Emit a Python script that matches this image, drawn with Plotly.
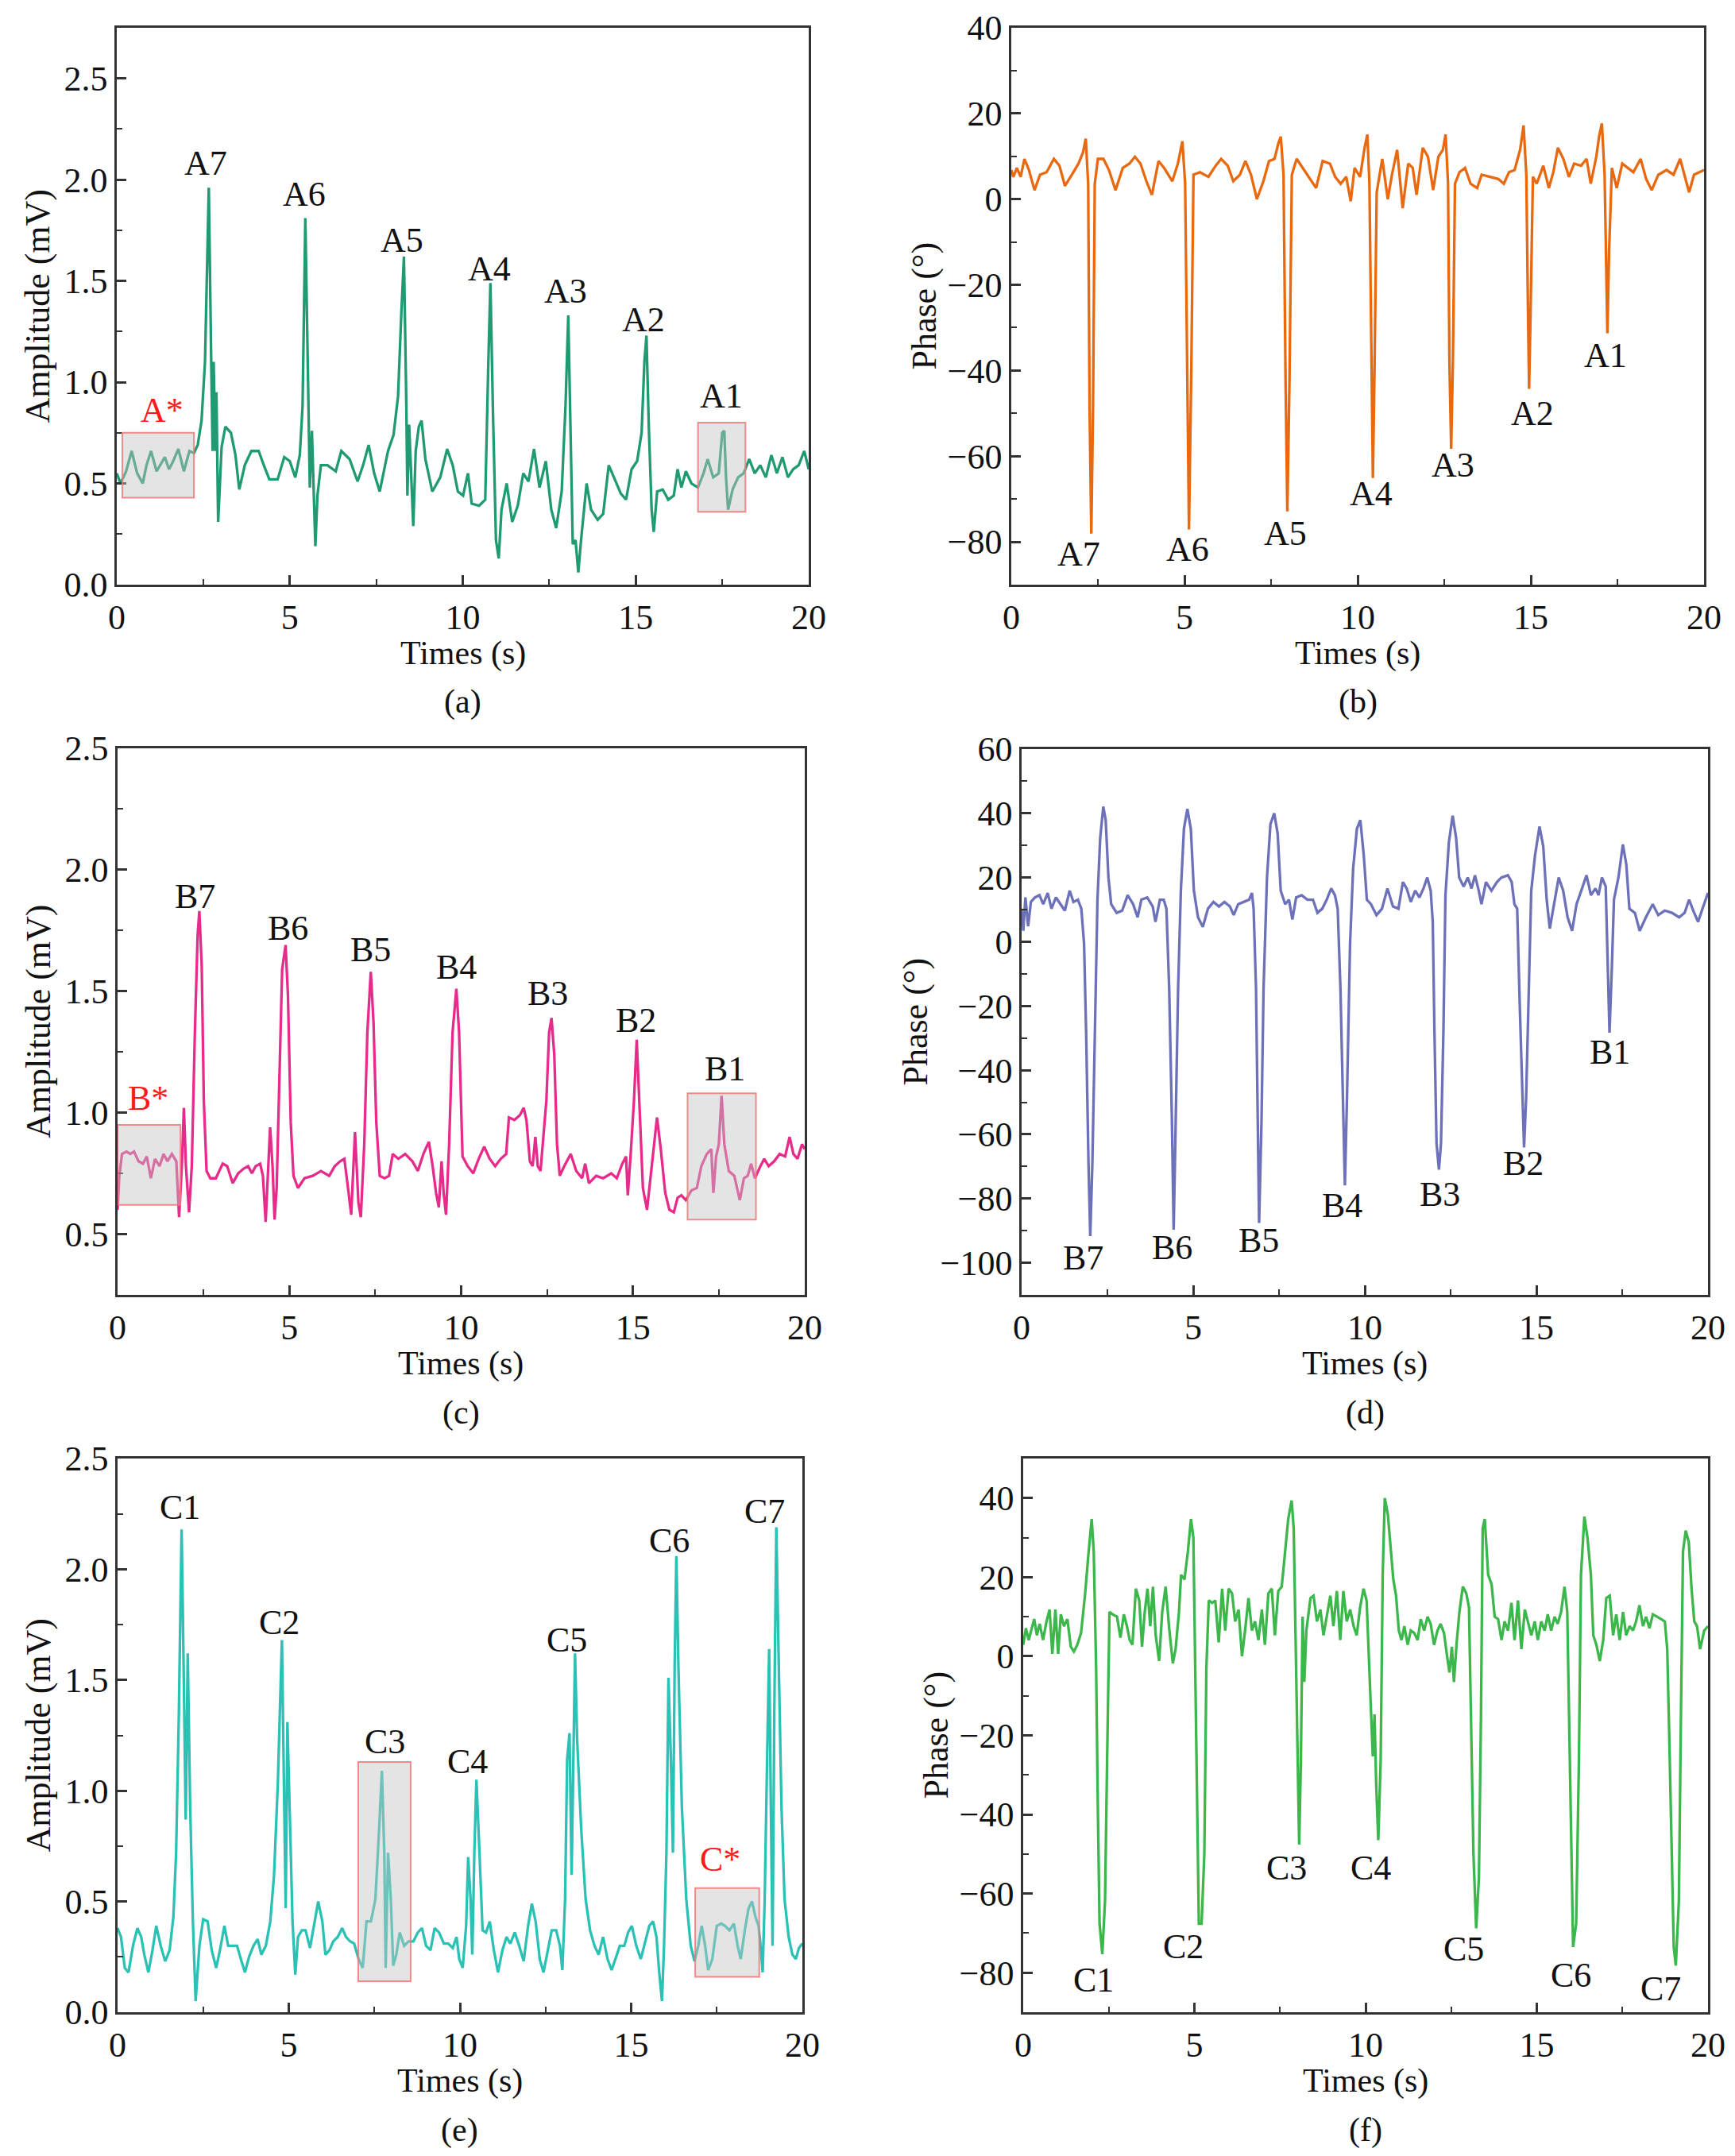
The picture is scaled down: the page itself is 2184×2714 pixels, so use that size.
import plotly.graph_objects as go

# ---------------- data ----------------
t_a = [0.00,0.11,0.27,0.43,0.59,0.75,0.86,0.99,1.15,1.39,1.51,1.63,1.78,1.94,2.10,2.23,2.34,2.45,2.55,2.61,2.66,2.73,2.77,2.80,2.85,2.88,2.93,3.03,3.14,3.30,3.43,3.54,3.70,3.89,4.10,4.25,4.41,4.65,4.84,5.00,5.16,5.29,5.37,5.45,5.53,5.58,5.64,5.69,5.74,5.80,5.90,6.09,6.33,6.49,6.73,6.96,7.12,7.28,7.44,7.60,7.84,8.00,8.13,8.22,8.30,8.37,8.40,8.45,8.51,8.57,8.64,8.73,8.81,8.92,9.12,9.35,9.55,9.71,9.86,10.01,10.15,10.26,10.47,10.65,10.74,10.80,10.87,10.92,10.96,11.04,11.12,11.27,11.43,11.59,11.75,11.90,12.06,12.22,12.40,12.56,12.70,12.86,12.97,13.05,13.13,13.18,13.26,13.34,13.42,13.58,13.71,13.90,14.06,14.22,14.37,14.57,14.72,14.88,15.04,15.17,15.25,15.31,15.38,15.46,15.52,15.62,15.78,15.94,16.10,16.21,16.32,16.45,16.61,16.80,16.96,17.08,17.24,17.40,17.50,17.56,17.61,17.67,17.80,17.96,18.12,18.28,18.44,18.60,18.76,18.92,19.08,19.24,19.40,19.55,19.71,19.87,20.00]
amp_a = [0.55,0.50,0.56,0.66,0.55,0.50,0.59,0.66,0.56,0.63,0.57,0.61,0.67,0.56,0.66,0.65,0.69,0.81,1.10,1.54,1.96,1.10,0.66,1.10,0.66,0.95,0.31,0.68,0.78,0.75,0.64,0.47,0.59,0.66,0.66,0.59,0.52,0.52,0.63,0.61,0.53,0.64,0.88,1.81,0.88,0.48,0.76,0.44,0.19,0.44,0.59,0.59,0.56,0.66,0.62,0.51,0.59,0.69,0.55,0.46,0.66,0.74,0.93,1.32,1.62,0.88,0.44,0.79,0.55,0.29,0.66,0.78,0.81,0.62,0.46,0.53,0.67,0.59,0.46,0.44,0.55,0.40,0.39,0.42,1.10,1.49,0.88,0.44,0.22,0.13,0.37,0.50,0.31,0.39,0.55,0.51,0.67,0.48,0.61,0.37,0.28,0.46,0.88,1.33,0.66,0.20,0.22,0.06,0.22,0.50,0.37,0.32,0.35,0.59,0.53,0.45,0.42,0.57,0.61,0.75,1.10,1.23,0.77,0.37,0.26,0.46,0.47,0.42,0.44,0.57,0.48,0.56,0.50,0.48,0.55,0.62,0.53,0.55,0.75,0.76,0.53,0.37,0.47,0.53,0.55,0.62,0.55,0.59,0.53,0.64,0.55,0.63,0.53,0.57,0.59,0.66,0.57]

t_b = [0.00,0.06,0.16,0.27,0.38,0.51,0.67,0.83,1.02,1.23,1.39,1.55,1.75,1.94,2.07,2.15,2.22,2.26,2.31,2.36,2.41,2.50,2.66,2.82,3.01,3.22,3.41,3.57,3.73,3.90,4.06,4.25,4.41,4.65,4.81,4.94,5.02,5.08,5.13,5.20,5.26,5.45,5.69,5.90,6.06,6.25,6.41,6.60,6.76,6.92,7.09,7.28,7.44,7.60,7.71,7.78,7.86,7.92,7.97,8.03,8.10,8.24,8.45,8.64,8.80,8.99,9.20,9.35,9.51,9.67,9.80,9.91,10.07,10.20,10.28,10.34,10.39,10.44,10.49,10.55,10.71,10.87,10.99,11.14,11.30,11.46,11.59,11.70,11.88,12.03,12.18,12.33,12.46,12.54,12.61,12.65,12.70,12.75,12.81,12.94,13.10,13.26,13.45,13.58,13.82,14.06,14.22,14.37,14.53,14.69,14.79,14.87,14.92,14.95,14.99,15.06,15.17,15.36,15.52,15.65,15.78,15.94,16.10,16.25,16.45,16.61,16.73,16.89,16.97,17.05,17.13,17.18,17.21,17.26,17.34,17.48,17.64,17.80,17.96,18.17,18.33,18.49,18.68,18.92,19.12,19.31,19.44,19.57,19.71,19.87,20.00]
ph_b = [6.8,5.2,7.3,5.2,9.4,6.8,2.1,5.7,6.3,9.4,7.8,3.1,5.7,8.3,10.9,14.1,3.6,-48.4,-78.1,-48.4,3.6,9.4,9.4,6.8,2.1,7.3,8.3,9.9,8.3,4.2,1.0,8.9,7.3,4.2,8.3,13.5,3.6,-38.0,-77.1,-38.0,5.7,6.3,5.2,7.8,9.4,7.8,4.2,5.7,8.9,5.7,0.0,4.2,8.9,9.4,13.0,14.6,5.7,-43.2,-72.9,-43.2,5.7,9.4,6.8,4.7,2.6,8.9,8.3,5.2,3.6,5.2,-0.5,7.3,5.2,12.0,15.1,3.6,-38.0,-65.1,-38.0,1.6,9.4,0.0,5.7,11.5,-2.1,8.3,7.3,1.0,12.0,9.9,2.1,9.9,11.5,15.1,3.6,-38.0,-58.3,-38.0,3.6,6.3,7.3,3.6,2.6,5.7,5.2,4.7,3.6,6.3,6.8,11.5,17.2,5.7,-27.6,-44.3,-27.6,5.2,3.6,7.8,2.6,6.3,12.0,9.4,5.2,8.3,7.8,9.4,3.6,9.9,14.6,17.7,5.7,-17.2,-31.3,-12.0,7.3,2.6,8.3,7.3,6.3,9.4,4.7,2.1,5.7,6.8,5.7,9.4,5.7,1.6,5.7,6.3,6.8]

t_c = [0.00,0.05,0.13,0.26,0.37,0.48,0.61,0.74,0.85,0.97,1.09,1.22,1.34,1.45,1.58,1.71,1.79,1.87,1.93,1.99,2.08,2.16,2.25,2.33,2.38,2.45,2.51,2.59,2.70,2.86,3.06,3.19,3.35,3.51,3.67,3.80,3.91,4.02,4.15,4.23,4.31,4.38,4.44,4.51,4.57,4.63,4.71,4.79,4.89,4.96,5.04,5.12,5.25,5.44,5.68,5.92,6.16,6.32,6.48,6.60,6.69,6.80,6.91,7.01,7.08,7.18,7.27,7.37,7.45,7.53,7.63,7.77,7.90,8.01,8.17,8.37,8.58,8.74,8.90,9.06,9.17,9.27,9.35,9.43,9.49,9.56,9.65,9.75,9.86,9.94,10.04,10.19,10.35,10.51,10.67,10.83,10.99,11.15,11.31,11.39,11.55,11.71,11.82,11.90,12.00,12.08,12.16,12.23,12.31,12.39,12.48,12.56,12.63,12.71,12.79,12.87,13.00,13.19,13.35,13.52,13.61,13.72,13.93,14.13,14.37,14.53,14.69,14.80,14.85,14.93,15.03,15.11,15.19,15.29,15.41,15.54,15.70,15.81,15.94,16.06,16.19,16.30,16.41,16.54,16.70,16.86,16.99,17.15,17.28,17.34,17.42,17.50,17.58,17.66,17.79,17.95,18.11,18.23,18.34,18.44,18.55,18.71,18.82,18.95,19.11,19.27,19.43,19.56,19.67,19.79,19.92,20.00]
amp_c = [0.60,0.74,0.83,0.84,0.83,0.84,0.80,0.79,0.82,0.73,0.81,0.78,0.83,0.80,0.83,0.80,0.57,0.78,1.02,0.78,0.59,0.78,1.33,1.73,1.83,1.60,1.05,0.76,0.73,0.73,0.79,0.78,0.71,0.75,0.77,0.78,0.75,0.78,0.79,0.74,0.55,0.78,0.94,0.78,0.56,0.69,1.15,1.59,1.69,1.48,0.96,0.74,0.69,0.73,0.74,0.76,0.74,0.78,0.80,0.81,0.71,0.58,0.92,0.63,0.57,0.87,1.33,1.58,1.37,0.96,0.74,0.73,0.74,0.83,0.81,0.83,0.80,0.76,0.83,0.88,0.78,0.67,0.61,0.80,0.67,0.58,0.87,1.33,1.51,1.33,0.82,0.78,0.75,0.81,0.86,0.81,0.78,0.81,0.83,0.98,0.97,0.99,1.02,0.97,0.80,0.78,0.90,0.78,0.76,0.89,1.05,1.33,1.39,1.24,0.87,0.74,0.78,0.83,0.76,0.73,0.79,0.71,0.74,0.73,0.75,0.73,0.79,0.82,0.66,0.82,1.05,1.30,1.05,0.69,0.60,0.78,0.98,0.85,0.67,0.60,0.59,0.65,0.66,0.64,0.68,0.69,0.78,0.83,0.85,0.67,0.82,0.87,1.07,0.87,0.76,0.74,0.64,0.73,0.74,0.79,0.73,0.78,0.81,0.78,0.80,0.83,0.82,0.90,0.83,0.81,0.87,0.85]

t_d = [0.00,0.05,0.11,0.19,0.27,0.39,0.52,0.63,0.76,0.87,1.00,1.13,1.26,1.40,1.51,1.64,1.74,1.82,1.88,1.95,2.00,2.06,2.13,2.21,2.29,2.38,2.45,2.53,2.61,2.77,2.93,3.09,3.25,3.38,3.49,3.66,3.82,3.90,4.03,4.14,4.22,4.30,4.38,4.43,4.49,4.56,4.64,4.73,4.83,4.93,5.02,5.14,5.28,5.43,5.59,5.75,5.91,6.07,6.18,6.31,6.47,6.63,6.71,6.76,6.83,6.88,6.92,6.99,7.05,7.15,7.25,7.36,7.46,7.55,7.68,7.79,7.89,8.00,8.16,8.33,8.49,8.62,8.76,8.89,9.02,9.13,9.21,9.29,9.36,9.42,9.48,9.57,9.66,9.77,9.87,9.97,10.06,10.18,10.34,10.50,10.66,10.82,10.98,11.11,11.22,11.34,11.47,11.59,11.71,11.82,11.92,11.98,12.03,12.09,12.16,12.22,12.29,12.35,12.45,12.56,12.66,12.75,12.88,13.00,13.11,13.21,13.32,13.40,13.53,13.69,13.85,13.98,14.17,14.28,14.36,14.44,14.52,14.59,14.64,14.70,14.77,14.85,14.96,15.09,15.20,15.30,15.39,15.49,15.65,15.78,15.91,16.04,16.17,16.33,16.46,16.59,16.72,16.81,16.91,17.02,17.08,17.13,17.20,17.26,17.39,17.52,17.62,17.71,17.87,18.01,18.19,18.39,18.55,18.74,18.95,19.16,19.32,19.45,19.57,19.71,19.84,20.00]
ph_d = [10.3,3.4,13.8,4.8,12.4,13.8,14.5,11.7,15.2,10.3,13.8,11.7,9.7,15.9,12.4,13.1,10.3,-0.7,-28.3,-69.7,-91.7,-69.7,-28.3,13.1,32.4,42.1,37.9,20.0,11.7,9.0,9.7,14.5,11.7,7.6,13.1,13.8,11.0,6.2,13.1,13.1,10.3,-14.5,-55.9,-89.7,-55.9,-14.5,15.9,35.2,41.4,35.2,15.9,7.6,4.6,10.3,12.4,11.0,12.4,11.0,8.3,11.7,12.4,13.1,15.2,10.3,-14.5,-55.9,-87.6,-55.9,-14.5,20.0,36.6,40.0,33.8,15.9,11.7,13.1,6.9,13.8,14.5,13.1,13.1,9.0,10.3,13.1,16.6,14.5,10.3,-14.5,-49.0,-75.9,-49.0,-0.7,22.8,35.2,37.9,26.9,13.1,11.7,8.3,10.3,16.6,11.0,10.3,18.6,16.6,12.4,15.9,13.8,16.6,20.0,15.9,6.2,-28.3,-62.8,-71.0,-62.8,-28.3,14.5,31.0,39.3,32.4,20.0,17.2,20.0,16.6,20.7,15.9,11.7,18.6,15.9,18.6,20.0,20.7,18.6,11.7,10.3,-21.4,-49.0,-64.1,-49.0,-14.5,15.9,26.9,35.9,29.7,13.1,4.1,10.3,20.0,15.9,7.6,3.4,11.7,16.6,20.7,14.5,16.6,14.5,20.0,17.2,-7.6,-28.3,-7.6,13.1,20.0,30.3,24.1,10.3,9.0,3.4,7.6,11.7,8.3,9.7,9.0,7.6,9.0,13.1,9.7,6.2,10.3,15.2]

t_e = [0.00,0.10,0.21,0.32,0.45,0.58,0.69,0.78,0.90,1.02,1.13,1.26,1.39,1.52,1.63,1.71,1.79,1.87,1.92,1.99,2.05,2.12,2.20,2.28,2.39,2.50,2.63,2.75,2.88,2.99,3.12,3.23,3.36,3.49,3.60,3.72,3.84,3.97,4.09,4.20,4.33,4.46,4.57,4.68,4.80,4.86,4.91,4.96,5.02,5.11,5.19,5.27,5.38,5.49,5.62,5.75,5.86,5.98,6.07,6.19,6.30,6.43,6.56,6.67,6.79,6.91,7.04,7.16,7.27,7.40,7.53,7.64,7.72,7.79,7.83,7.90,7.98,8.05,8.14,8.24,8.37,8.50,8.64,8.77,8.89,9.01,9.14,9.26,9.39,9.53,9.66,9.79,9.90,9.98,10.08,10.18,10.24,10.31,10.36,10.42,10.48,10.57,10.66,10.76,10.87,10.99,11.11,11.24,11.36,11.47,11.60,11.73,11.86,11.99,12.10,12.21,12.33,12.44,12.57,12.68,12.81,12.92,12.99,13.07,13.13,13.20,13.26,13.31,13.36,13.42,13.54,13.67,13.80,13.93,14.05,14.18,14.31,14.43,14.54,14.67,14.80,14.91,15.02,15.15,15.28,15.41,15.53,15.64,15.74,15.82,15.90,15.96,16.03,16.09,16.16,16.22,16.27,16.32,16.38,16.48,16.61,16.74,16.85,16.96,17.06,17.16,17.25,17.37,17.50,17.63,17.74,17.87,18.00,18.11,18.20,18.32,18.43,18.53,18.63,18.72,18.78,18.84,18.90,18.97,19.03,19.08,19.13,19.18,19.24,19.30,19.39,19.48,19.60,19.71,19.81,19.90,20.00]
amp_e = [0.38,0.34,0.20,0.18,0.30,0.38,0.34,0.26,0.18,0.28,0.39,0.30,0.23,0.28,0.43,0.72,1.35,2.18,1.66,0.87,1.62,0.93,0.41,0.05,0.30,0.42,0.41,0.28,0.20,0.28,0.39,0.30,0.30,0.30,0.24,0.18,0.25,0.30,0.33,0.26,0.30,0.41,0.62,1.03,1.68,0.93,0.47,1.31,0.93,0.41,0.17,0.34,0.37,0.37,0.29,0.41,0.50,0.41,0.26,0.28,0.32,0.34,0.38,0.34,0.32,0.31,0.24,0.20,0.41,0.41,0.51,0.83,1.09,0.72,0.20,0.72,0.51,0.21,0.26,0.36,0.30,0.32,0.32,0.36,0.38,0.30,0.28,0.38,0.36,0.31,0.31,0.29,0.34,0.24,0.20,0.39,0.70,0.51,0.26,0.72,1.05,0.72,0.37,0.36,0.41,0.28,0.18,0.28,0.34,0.31,0.36,0.30,0.23,0.39,0.49,0.41,0.24,0.18,0.28,0.37,0.37,0.30,0.19,0.51,1.14,1.26,0.62,1.14,1.62,1.24,0.83,0.51,0.37,0.30,0.26,0.34,0.24,0.19,0.24,0.30,0.30,0.36,0.39,0.30,0.24,0.32,0.39,0.41,0.34,0.18,0.05,0.30,0.72,1.51,1.14,0.72,1.56,2.06,1.56,0.93,0.51,0.30,0.23,0.30,0.39,0.30,0.19,0.24,0.39,0.40,0.39,0.37,0.40,0.30,0.24,0.37,0.47,0.50,0.43,0.39,0.30,0.18,0.51,1.14,1.64,0.93,0.30,1.35,2.19,1.66,0.93,0.51,0.34,0.26,0.24,0.29,0.31]

t_f = [0.00,0.08,0.16,0.24,0.32,0.40,0.48,0.58,0.68,0.77,0.85,0.94,1.02,1.10,1.19,1.29,1.39,1.48,1.58,1.69,1.81,1.90,2.00,2.06,2.13,2.18,2.23,2.31,2.39,2.45,2.52,2.61,2.74,2.84,2.94,3.03,3.11,3.19,3.29,3.39,3.47,3.55,3.63,3.71,3.79,3.87,3.97,4.06,4.16,4.27,4.37,4.45,4.55,4.61,4.71,4.81,4.90,4.97,5.03,5.08,5.13,5.21,5.29,5.35,5.42,5.52,5.61,5.71,5.81,5.90,6.00,6.10,6.19,6.29,6.39,6.48,6.58,6.68,6.77,6.87,6.97,7.06,7.16,7.26,7.35,7.45,7.55,7.65,7.74,7.84,7.90,7.97,8.02,8.06,8.11,8.16,8.21,8.27,8.39,8.48,8.58,8.68,8.77,8.87,8.97,9.06,9.16,9.26,9.35,9.45,9.55,9.65,9.74,9.84,9.94,10.03,10.10,10.16,10.21,10.26,10.31,10.37,10.44,10.50,10.56,10.65,10.73,10.81,10.89,10.97,11.05,11.13,11.23,11.32,11.42,11.52,11.61,11.71,11.81,11.90,12.00,12.10,12.19,12.29,12.39,12.45,12.52,12.58,12.66,12.74,12.84,12.94,13.02,13.08,13.15,13.23,13.31,13.37,13.42,13.48,13.58,13.68,13.77,13.87,13.97,14.06,14.16,14.26,14.35,14.45,14.55,14.65,14.74,14.84,14.94,15.03,15.13,15.23,15.32,15.42,15.52,15.61,15.71,15.81,15.89,15.94,16.00,16.06,16.15,16.23,16.29,16.39,16.48,16.58,16.65,16.74,16.84,16.94,17.03,17.13,17.23,17.32,17.42,17.52,17.61,17.71,17.81,17.90,18.00,18.10,18.19,18.29,18.39,18.52,18.63,18.74,18.81,18.87,18.94,19.00,19.06,19.15,19.21,19.27,19.35,19.44,19.52,19.60,19.68,19.77,19.89,20.00]
ph_f = [2.9,7.1,4.1,6.5,9.4,5.3,8.2,4.1,8.8,11.8,0.6,11.8,0.6,10.6,7.6,9.4,2.4,1.2,2.9,5.9,15.9,25.3,34.7,26.5,-2.9,-38.2,-67.6,-75.3,-61.8,-26.5,11.2,10.6,10.0,4.7,10.6,7.6,4.1,2.9,17.1,14.1,2.4,11.2,17.1,7.6,17.6,5.3,-1.2,11.2,17.6,6.5,-1.8,1.8,11.2,20.6,19.4,26.5,34.7,30.0,-2.9,-38.2,-67.6,-67.6,-50.0,-2.9,14.1,13.5,14.1,3.5,17.1,6.5,17.1,15.9,8.8,11.8,0.0,6.5,14.7,6.5,8.8,4.1,11.8,2.9,15.9,17.1,5.3,16.5,17.6,26.5,34.7,39.4,32.4,-2.9,-26.5,-47.6,-26.5,10.0,-6.5,6.5,14.7,15.3,8.8,11.8,5.3,10.6,15.3,7.6,16.5,4.1,16.5,8.8,11.8,7.6,5.3,12.4,17.1,14.1,-2.9,-14.7,-25.3,-14.7,-32.4,-46.5,-26.5,20.6,40.0,35.9,27.6,19.4,15.3,6.5,4.1,7.6,2.9,6.5,5.9,4.1,9.4,6.5,10.0,8.2,2.9,6.5,8.2,5.9,-0.6,-4.1,2.4,-6.5,3.5,11.2,17.6,15.9,12.4,-14.7,-50.0,-68.8,-55.9,-14.7,32.4,34.7,20.6,18.2,10.0,9.4,4.1,8.8,6.5,13.5,4.1,14.1,1.8,11.8,8.8,5.3,8.8,4.1,8.8,6.5,10.6,6.5,10.0,8.2,11.2,17.6,11.2,-14.7,-50.0,-73.5,-67.6,-26.5,20.6,35.3,30.0,20.6,5.3,2.9,-1.2,4.1,14.7,15.3,5.3,10.6,4.1,11.2,5.3,7.6,6.5,8.8,12.9,7.6,10.0,7.1,10.6,10.0,9.4,8.8,1.8,-20.6,-50.0,-73.5,-78.2,-61.8,-14.7,26.5,31.8,28.8,17.1,8.8,7.6,1.8,6.5,7.6]

# peak labels
names_a = ["A7", "A6", "A5", "A4", "A3", "A2", "A1"]
lab_t_a = [2.58, 5.42, 8.24, 10.76, 12.97, 15.22, 17.48]
lab_y_a = [2.08, 1.93, 1.70, 1.56, 1.45, 1.31, 0.93]
lab_t_b = [1.94, 5.10, 7.92, 10.39, 12.75, 15.04, 17.16]
lab_y_b = [-82.8, -81.8, -78.1, -68.8, -62.0, -50.0, -36.5]
names_c = ["B7", "B6", "B5", "B4", "B3", "B2", "B1"]
lab_t_c = [2.25, 4.96, 7.37, 9.86, 12.52, 15.09, 17.67]
lab_y_c = [1.89, 1.76, 1.67, 1.60, 1.49, 1.38, 1.18]
lab_t_d = [1.80, 4.38, 6.91, 9.34, 12.19, 14.61, 17.13]
lab_y_d = [-98.6, -95.2, -93.1, -82.1, -78.6, -69.0, -34.5]
names_e = ["C1", "C2", "C3", "C4", "C5", "C6", "C7"]
lab_t_e = [1.83, 4.73, 7.80, 10.23, 13.13, 16.12, 18.90]
lab_y_e = [2.28, 1.76, 1.22, 1.13, 1.68, 2.13, 2.26]
lab_t_f = [2.05, 4.68, 7.69, 10.16, 12.87, 16.00, 18.63]
lab_y_f = [-81.8, -73.5, -53.5, -53.5, -74.1, -80.6, -84.1]

# red "*" labels (text, t, value)
star_a = ("A*", 1.31, 0.86)
star_c = ("B*", 0.90, 1.06)
star_e = ("C*", 17.61, 0.69)

# shaded boxes (t0, t1, v0, v1)
boxes_a = [(0.16, 2.23, 0.43, 0.75), (16.80, 18.17, 0.36, 0.80)]
boxes_c = [(0.00, 1.83, 0.62, 0.95), (16.59, 18.58, 0.56, 1.08)]
boxes_e = [(7.03, 8.56, 0.14, 1.13), (16.87, 18.74, 0.16, 0.56)]

# ---------------- styling / layout ----------------
W, H = 2184, 2714
FONT = "Liberation Serif"
FS = 44
FS_LOW = 42
AX = "#333333"
TXT = "#111111"

panels = [
    dict(t=t_a, v=amp_a, color="#1f9a72", px=(139, 1010), py=(27, 728), yr=[0, 2.75], dt=0.5, mdt=0.25,
         fmt=".1f", ytitle="Amplitude (mV)", yoff=100, names=names_a, lt=lab_t_a, ly=lab_y_a, star=star_a, boxes=boxes_a, tag="(a)"),
    dict(t=t_b, v=ph_b, color="#e8690f", px=(1265, 2137), py=(27, 728), yr=[-90, 40], dt=20, mdt=10,
         fmt="", ytitle="Phase (°)", yoff=110, names=names_a, lt=lab_t_b, ly=lab_y_b, star=None, boxes=[], tag="(b)"),
    dict(t=t_c, v=amp_c, color="#e62b8b", px=(140, 1005), py=(934, 1622), yr=[0.25, 2.5], dt=0.5, mdt=0.25,
         fmt=".1f", ytitle="Amplitude (mV)", yoff=100, names=names_c, lt=lab_t_c, ly=lab_y_c, star=star_c, boxes=boxes_c, tag="(c)"),
    dict(t=t_d, v=ph_d, color="#6d71b9", px=(1278, 2142), py=(935, 1622), yr=[-110, 60], dt=20, mdt=10,
         fmt="", ytitle="Phase (°)", yoff=134, names=names_c, lt=lab_t_d, ly=lab_y_d, star=None, boxes=[], tag="(d)"),
    dict(t=t_e, v=amp_e, color="#2bc1b4", px=(140, 1002), py=(1828, 2525), yr=[0, 2.5], dt=0.5, mdt=0.25,
         fmt=".1f", ytitle="Amplitude (mV)", yoff=100, names=names_e, lt=lab_t_e, ly=lab_y_e, star=star_e, boxes=boxes_e, tag="(e)"),
    dict(t=t_f, v=ph_f, color="#3cb74b", px=(1280, 2142), py=(1828, 2525), yr=[-90, 50], dt=20, mdt=10,
         fmt="", ytitle="Phase (°)", yoff=110, names=names_e, lt=lab_t_f, ly=lab_y_f, star=None, boxes=[], tag="(f)"),
]

fig = go.Figure()
annotations = []
shapes = []
layout = dict(
    width=W, height=H,
    margin=dict(l=0, r=0, t=0, b=0, pad=0, autoexpand=False),
    paper_bgcolor="white", plot_bgcolor="white",
    showlegend=False,
    font=dict(family=FONT, size=FS, color=TXT),
)


def px_to_paper_y(py):
    return 1 - py / H


def text_ann(size=FS, color=TXT, **kw):
    base = dict(showarrow=False, xanchor="center", yanchor="middle", borderpad=0, borderwidth=0,
                font=dict(family=FONT, size=size, color=color))
    base.update(kw)
    return base


for i, p in enumerate(panels, start=1):
    sx = "" if i == 1 else str(i)
    xref, yref = "x" + sx, "y" + sx
    fig.add_trace(go.Scatter(x=p["t"], y=p["v"], mode="lines", xaxis=xref, yaxis=yref,
                             line=dict(color=p["color"], width=3.3), hoverinfo="skip"))
    xd = [p["px"][0] / W, p["px"][1] / W]
    yd = [px_to_paper_y(p["py"][1]), px_to_paper_y(p["py"][0])]
    common = dict(showline=True, linecolor=AX, linewidth=2.5, mirror=True, showgrid=False, zeroline=False,
                  automargin=False,
                  ticks="inside", ticklen=12, tickwidth=2.5, tickcolor=AX,
                  tickfont=dict(family=FONT, size=FS, color=TXT))
    layout["xaxis" + sx] = dict(domain=xd, anchor=yref, range=[0, 20], tick0=0, dtick=5,
                                minor=dict(ticks="inside", ticklen=7, tickwidth=2, tickcolor=AX, tick0=0, dtick=2.5),
                                **common)
    layout["yaxis" + sx] = dict(domain=yd, anchor=xref, range=p["yr"], tick0=0, dtick=p["dt"],
                                tickformat=p["fmt"],
                                minor=dict(ticks="inside", ticklen=7, tickwidth=2, tickcolor=AX, tick0=0, dtick=p["mdt"]),
                                **common)
    # axis titles and panel tag, placed next to the axes
    xc = (xd[0] + xd[1]) / 2
    annotations.append(text_ann(size=FS_LOW, x=xc, y=px_to_paper_y(p["py"][1] + 86), xref="paper", yref="paper",
                                text="Times (s)"))
    annotations.append(text_ann(x=(p["px"][0] - p["yoff"]) / W, y=(yd[0] + yd[1]) / 2, xref="paper", yref="paper",
                                text=p["ytitle"], textangle=-90))
    annotations.append(text_ann(size=FS_LOW, x=xc, y=px_to_paper_y(p["py"][1] + 148), xref="paper", yref="paper",
                                text=p["tag"]))
    for name, lt, ly in zip(p["names"], p["lt"], p["ly"]):
        annotations.append(text_ann(x=lt, y=ly, xref=xref, yref=yref, text=name))
    if p["star"]:
        s, st, sy = p["star"]
        annotations.append(text_ann(color="#ff1a1a", x=st, y=sy, xref=xref, yref=yref, text=s))
    for (b0, b1, v0, v1) in p["boxes"]:
        shapes.append(dict(type="rect", xref=xref, yref=yref, x0=b0, x1=b1, y0=v0, y1=v1, layer="above",
                           fillcolor="rgba(195,195,195,0.45)",
                           line=dict(color="rgba(240,120,120,0.85)", width=2)))

layout["annotations"] = annotations
layout["shapes"] = shapes
fig.update_layout(**layout)
fig.write_html("out.html")
